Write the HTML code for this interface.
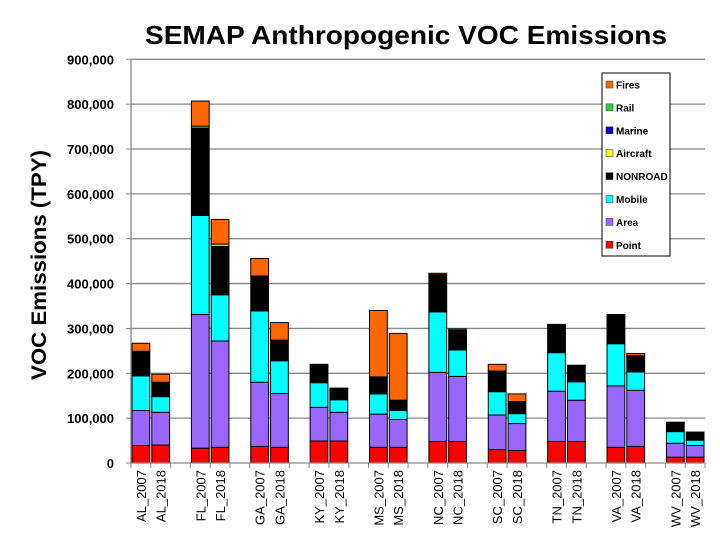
<!DOCTYPE html>
<html><head><meta charset="utf-8"><style>
body{margin:0;background:#fff;width:720px;height:540px;overflow:hidden;font-family:"Liberation Sans",sans-serif}
</style></head><body>
<svg id="chart" width="720" height="540" xmlns="http://www.w3.org/2000/svg" font-family="Liberation Sans, sans-serif">
<text x="406" y="44" text-anchor="middle" font-size="26" font-weight="bold" textLength="522" lengthAdjust="spacingAndGlyphs">SEMAP Anthropogenic VOC Emissions</text>
<text transform="translate(46,265) rotate(-90)" text-anchor="middle" font-size="21" font-weight="bold" textLength="230" lengthAdjust="spacingAndGlyphs">VOC Emissions (TPY)</text>
<g id="grid"></g><g id="bars"></g><g id="axes"></g>
<g id="legend"></g>
</svg>
<script>
const categories=["AL_2007","AL_2018","FL_2007","FL_2018","GA_2007","GA_2018","KY_2007","KY_2018","MS_2007","MS_2018","NC_2007","NC_2018","SC_2007","SC_2018","TN_2007","TN_2018","VA_2007","VA_2018","WV_2007","WV_2018"];
const seriesNames=["Point","Area","Mobile","NONROAD","Aircraft","Marine","Rail","Fires"];
const seriesColors=["#ff0000","#9966ff","#00ffff","#000000","#ffff00","#0000cc","#33cc33","#ff6600"];
const point=[39,40,33,35,37,35,49,49,35,35,48,48,30,28,48,48,35,37,13,13];
const area=[78,73,298,237,143,120,75,64,74,62,154,145,77,60,112,92,137,125,31,26];
const mobile=[77,35,221,103,159,73,55,28,45,20,135,59,52,22,86,41,94,41,26,12];
const nonroad=[55,32,195,108,78,46,41,24,38,23,83,44,46,27,61,36,63,34,21,18];
const aircraft=[0,0,4,5,0,0,0,0,0,0,0,0,0,0,0,0,0,2,0,0];
const marine=[0,0,0,0,0,0,0,0,0,0,0,0,0,0,0,0,0,0,0,0];
const rail=[0,0,0,0,0,0,0,0,0,0,0,0,0,0,0,0,0,0,0,0];
const fires=[18,18,56,55,39,39,0,2,148,149,3,3,15,17,2,1,2,5,0,0];
const yTicks=[0,100000,200000,300000,400000,500000,600000,700000,800000,900000];
const yTickLabels=["0","100,000","200,000","300,000","400,000","500,000","600,000","700,000","800,000","900,000"];

const NS="http://www.w3.org/2000/svg";
const X0=131,X1=705,Y0=463,Y1=59.3,YMAX=900000,SLOT=(X1-X0)/29;
const y=v=>Y0-(v/YMAX)*(Y0-Y1);
const slotOf=i=>Math.floor(i/2)*3+(i%2);
const x=i=>X0+slotOf(i)*SLOT;
function mk(t,a,p){const e=document.createElementNS(NS,t);for(const k in a)e.setAttribute(k,a[k]);p.appendChild(e);return e;}
const grid=document.getElementById('grid'),bars=document.getElementById('bars'),axes=document.getElementById('axes'),legend=document.getElementById('legend');
yTicks.forEach((v,k)=>{
  if(v>0){const g=mk('line',{x1:X0,x2:X1,y1:y(v),y2:y(v),stroke:'#888','stroke-width':1.3},grid);
  
  }
  const t=mk('text',{x:114,y:y(v)+5,'text-anchor':'end','font-size':13,'font-weight':'bold'},axes);
  t.textContent=yTickLabels[k];
  
  
  mk('line',{x1:X0-5,x2:X0,y1:y(v),y2:y(v),stroke:'#888'},axes);
});
const series=[point,area,mobile,nonroad,aircraft,marine,rail,fires];
categories.forEach((c,i)=>{
  let cum=0;
  series.forEach((s,k)=>{
    const v=s[i]*1000; if(v<=0)return;
    const r=mk('rect',{x:x(i)+1,y:y(cum+v),width:SLOT-2,height:y(cum)-y(cum+v),fill:seriesColors[k],stroke:'#000','stroke-width':1},bars);
    
    
    cum+=v;
  });
  const t=mk('text',{transform:`translate(${x(i)+SLOT/2+5},470) rotate(-90)`,'text-anchor':'end','font-size':13},axes);
  t.textContent=c;
  
  
});
for(let s=0;s<=29;s++){mk('line',{x1:X0+s*SLOT,x2:X0+s*SLOT,y1:Y0,y2:Y0+5,stroke:'#888'},axes);}
mk('line',{x1:X0,x2:X1,y1:Y0,y2:Y0,stroke:'#888','stroke-width':1.3},axes);
mk('line',{x1:X0,x2:X0,y1:Y1,y2:Y0,stroke:'#888','stroke-width':1.3},axes);
mk('rect',{x:602,y:73,width:68,height:183,fill:'#fff',stroke:'#000'},legend);
const legNames=["Fires","Rail","Marine","Aircraft","NONROAD","Mobile","Area","Point"];
legNames.forEach((n,j)=>{
  const k=seriesNames.indexOf(n);
  const yy=85+j*22.9;
  mk('rect',{x:606,y:yy-4,width:7,height:7,fill:seriesColors[k],stroke:'#333','stroke-width':0.5},legend);
  const t=mk('text',{x:616,y:yy+3.5,'font-size':10,'font-weight':'bold'},legend);
  t.textContent=n;
  
  
});
</script>
</body></html>
